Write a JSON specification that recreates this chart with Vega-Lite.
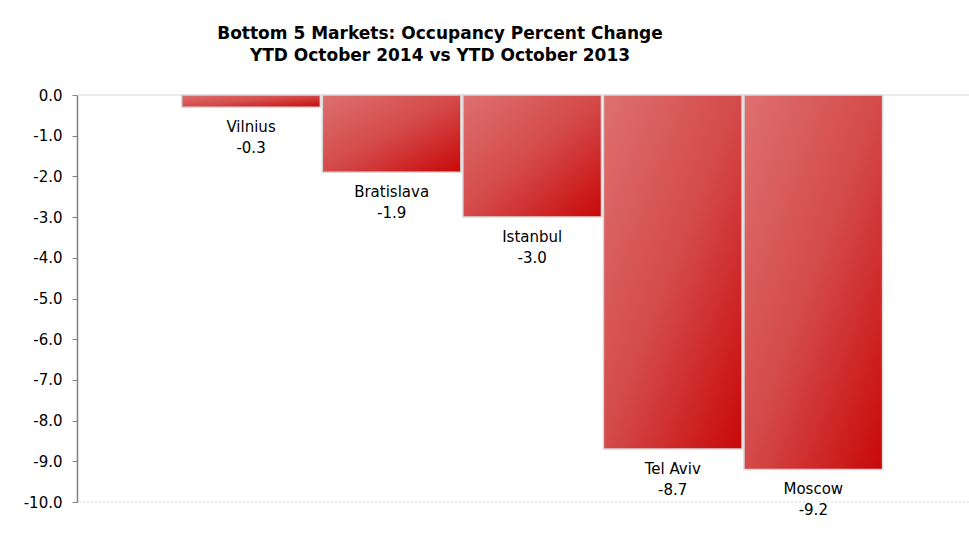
{
  "$schema": "https://vega.github.io/schema/vega-lite/v6.json",
  "autosize": {"type": "none"},
  "padding": {"left": 77, "top": 95, "right": 0, "bottom": 50},
  "width": 892,
  "height": 407,
  "background": "white",
  "config": {
    "view": {"stroke": null},
    "font": "DejaVu Sans",
    "locale": {"number": {"decimal": ".", "thousands": ",", "grouping": [3], "currency": ["$", ""], "minus": "-"}}
  },
  "title": {
    "text": ["Bottom 5 Markets: Occupancy Percent Change", "YTD October 2014 vs YTD October 2013"],
    "fontSize": 17,
    "fontWeight": "bold",
    "font": "DejaVu Sans",
    "lineHeight": 22,
    "anchor": "middle",
    "dx": -83,
    "offset": 23,
    "color": "black"
  },
  "data": {
    "values": [
      {"market": "Vilnius", "value": -0.3},
      {"market": "Bratislava", "value": -1.9},
      {"market": "Istanbul", "value": -3.0},
      {"market": "Tel Aviv", "value": -8.7},
      {"market": "Moscow", "value": -9.2}
    ]
  },
  "encoding": {
    "x": {
      "field": "market",
      "type": "nominal",
      "sort": null,
      "axis": null,
      "scale": {"paddingInner": 0.014, "paddingOuter": 0.68, "align": 0.548}
    }
  },
  "layer": [
    {
      "mark": {"type": "rule", "color": "#d9d9d9", "strokeWidth": 1},
      "data": {"values": [{"g": 0}]},
      "encoding": {"y": {"field": "g", "type": "quantitative"}, "x": null}
    },
    {
      "mark": {"type": "rule", "color": "#d9d9d9", "strokeWidth": 1, "strokeDash": [2, 2]},
      "data": {"values": [{"g": -10}]},
      "encoding": {"y": {"field": "g", "type": "quantitative"}, "x": null}
    },
    {
      "mark": {
        "type": "bar",
        "stroke": "#d9d9d9",
        "strokeWidth": 1.5,
        "color": {
          "gradient": "linear",
          "x1": 0, "y1": 0, "x2": 1, "y2": 1,
          "stops": [
            {"offset": 0, "color": "#de7070"},
            {"offset": 0.5, "color": "#d44a4a"},
            {"offset": 1, "color": "#c80808"}
          ]
        }
      },
      "encoding": {
        "y": {
          "field": "value",
          "type": "quantitative",
          "scale": {"domain": [-10, 0], "nice": false},
          "axis": {
            "title": null,
            "values": [0, -1, -2, -3, -4, -5, -6, -7, -8, -9, -10],
            "format": ".1f",
            "grid": false,
            "labelFontSize": 15,
            "labelColor": "black",
            "labelFont": "DejaVu Sans",
            "labelPadding": 10,
            "tickSize": 5,
            "tickColor": "#808080",
            "domainColor": "#808080",
            "domainWidth": 1.5
          }
        }
      }
    },
    {
      "mark": {"type": "text", "baseline": "top", "dy": 13, "fontSize": 15, "color": "black"},
      "encoding": {
        "y": {"field": "value", "type": "quantitative"},
        "text": {"field": "market"}
      }
    },
    {
      "mark": {"type": "text", "baseline": "top", "dy": 34, "fontSize": 15, "color": "black"},
      "encoding": {
        "y": {"field": "value", "type": "quantitative"},
        "text": {"field": "value", "format": ".1f"}
      }
    }
  ]
}
